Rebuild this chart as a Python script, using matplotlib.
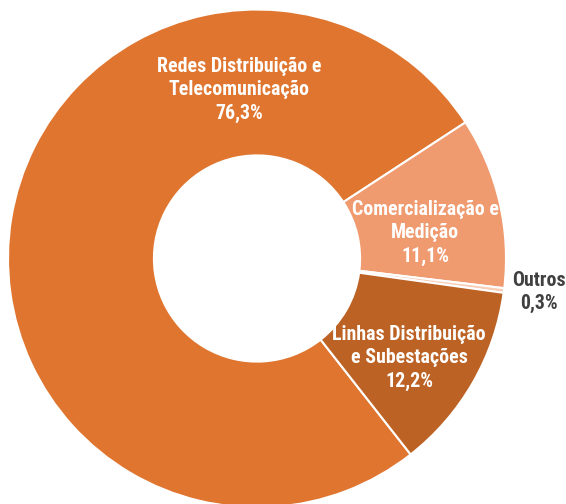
import matplotlib
matplotlib.use("Agg")
import matplotlib.pyplot as plt

categories = ["Redes Distribuição e\nTelecomunicação", "Comercialização e\nMedição", "Outros", "Linhas Distribuição\ne Subestações"]
values = [76.3, 11.1, 0.3, 12.2]
pct_labels = ["76,3%", "11,1%", "0,3%", "12,2%"]
colors = ["#DF752F", "#F09A70", "#F8CDB6", "#BC6224"]
text_colors = ["white", "white", "#404040", "white"]

W, H = 566, 504
cx, cy, R = 257, 258.5, 249

fig = plt.figure(figsize=(W / 100, H / 100), dpi=100)
ax = fig.add_axes([0, 0, 1, 1])
ax.pie(values, colors=colors, startangle=-51.9, counterclock=False, radius=1,
       wedgeprops=dict(width=0.586, edgecolor="white", linewidth=1.5))
ax.set_xlim(-cx / R, (W - cx) / R)
ax.set_ylim(-(H - cy) / R, cy / R)
ax.set_aspect("auto")
ax.axis("off")

# label anchor positions in pixels (x, y from top)
label_px = [(239, 90), (425, 233), (539, 292), (409, 358)]
for cat, pct, (px, py), tc in zip(categories, pct_labels, label_px, text_colors):
    ax.text((px - cx) / R, (cy - py) / R, f"{cat}\n{pct}", ha="center", va="center",
            color=tc, fontsize=14.3, fontweight="bold", linespacing=1.3,
            family=["Roboto Condensed", "DejaVu Sans"])

fig.savefig("out.png", dpi=100)
